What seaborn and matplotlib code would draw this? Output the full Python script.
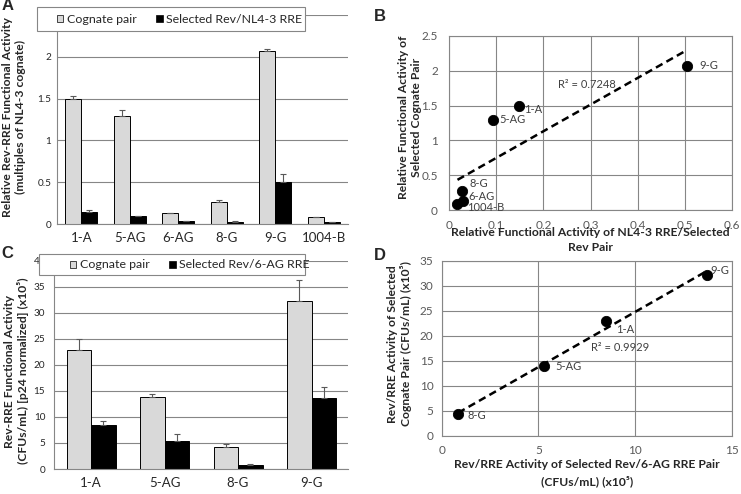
import matplotlib
matplotlib.use("Agg")

import matplotlib.pyplot as plt
import numpy as np
import pandas as pd
import seaborn as sns
from matplotlib.patches import Patch, Rectangle

# ---------------------------------------------------------------------------
# Data
# ---------------------------------------------------------------------------
A_PAIRS = ["1-A", "5-AG", "6-AG", "8-G", "9-G", "1004-B"]
A_SERIES = ["Cognate pair", "Selected Rev/NL4-3 RRE"]
A_COGNATE = [1.49, 1.295, 0.13, 0.267, 2.075, 0.08]
A_COGNATE_ERR = [0.04, 0.07, 0.005, 0.025, 0.02, 0.005]
A_SELECTED = [0.148, 0.093, 0.03, 0.028, 0.505, 0.018]
A_SELECTED_ERR = [0.015, 0.005, 0.008, 0.004, 0.09, 0.003]

C_PAIRS = ["1-A", "5-AG", "8-G", "9-G"]
C_SERIES = ["Cognate pair", "Selected Rev/6-AG RRE"]
C_COGNATE = [22.9, 13.9, 4.3, 32.2]
C_COGNATE_ERR = [2.0, 0.4, 0.5, 4.1]
C_SELECTED = [8.5, 5.3, 0.85, 13.7]
C_SELECTED_ERR = [0.8, 1.5, 0.1, 2.1]

B_R2_TEXT = "R² = 0.7248"
D_R2_TEXT = "R² = 0.9929"

# label offsets (points) for the scatter annotations
B_LABEL_OFFSETS = {"1-A": (4, -2), "5-AG": (5, 0), "6-AG": (4, 3),
                   "8-G": (5, 6), "9-G": (9, 0), "1004-B": (7, -2)}
D_LABEL_OFFSETS = {"1-A": (7, -6), "5-AG": (8, 0), "8-G": (7, -1), "9-G": (3, 3)}

GRAY_BAR = "#D9D9D9"
GRID_COLOR = "#868686"
TICK_GRAY = "#595959"
LABEL_SIZE = 8.7
W, H = 741, 494


def px(x, y):
    """Pixel position in the reference -> figure fraction."""
    return x / W, 1 - y / H


def axes_rect(left, top, right, bottom):
    return [left / W, 1 - bottom / H, (right - left) / W, (bottom - top) / H]


def draw_bars(ax, pairs, series, cognate, cognate_err, selected, selected_err):
    df = pd.DataFrame({
        "pair": pairs * 2,
        "series": [series[0]] * len(pairs) + [series[1]] * len(pairs),
        "value": cognate + selected,
    })
    sns.barplot(data=df, x="pair", y="value", hue="series", order=pairs,
                hue_order=series, palette=[GRAY_BAR, "black"], saturation=1,
                edgecolor="black", linewidth=0.7, width=2 / 3, gap=0,
                errorbar=None, legend=False, ax=ax, zorder=2)
    bar_containers = list(ax.containers)
    for cont, err in zip(bar_containers, [cognate_err, selected_err]):
        xs = [p.get_x() + p.get_width() / 2 for p in cont]
        hs = [p.get_height() for p in cont]
        ax.errorbar(xs, hs, yerr=[np.zeros(len(err)), err], fmt="none",
                    ecolor="#595959", elinewidth=0.8, capsize=2, capthick=0.8,
                    zorder=3)

    n = len(pairs)
    ax.set_xlim(-0.5, n - 0.5)
    ax.set_xlabel("")
    ax.grid(axis="y", color=GRID_COLOR, lw=0.8, zorder=0)
    ax.grid(axis="x", visible=False)
    for side in ["top", "right"]:
        ax.spines[side].set_visible(False)
    ax.spines["left"].set_color(GRID_COLOR)
    ax.spines["bottom"].set_color(GRID_COLOR)
    ax.spines["left"].set_linewidth(0.8)
    ax.spines["bottom"].set_linewidth(0.8)
    ax.set_xticks(np.arange(n + 1) - 0.5, minor=True)
    ax.tick_params(axis="x", which="minor", length=4, width=0.8,
                   color=GRID_COLOR, direction="out")
    ax.tick_params(axis="x", which="major", length=0, labelsize=9.5, pad=6)
    ax.tick_params(axis="y", length=0, labelsize=7.2, labelcolor="#262626")


def draw_legend(fig, series, box, left_x, cy):
    x0, y0 = px(box[0], box[3])
    x1, y1 = px(box[2], box[1])
    fig.patches.append(Rectangle((x0, y0), x1 - x0, y1 - y0,
                                 transform=fig.transFigure, facecolor="white",
                                 edgecolor=GRID_COLOR, lw=0.8, zorder=2))
    handles = [Patch(facecolor=GRAY_BAR, edgecolor="black", lw=0.5),
               Patch(facecolor="black", edgecolor="black", lw=0.5)]
    leg = fig.legend(handles, series, loc="center left",
                     bbox_to_anchor=px(left_x, cy), ncol=2, frameon=False,
                     fontsize=8.9, handlelength=0.5, handleheight=0.5,
                     handletextpad=0.3, columnspacing=1.6, borderpad=0,
                     borderaxespad=0)
    leg.set_zorder(5)


def draw_scatter(ax, xs, ys, names, offsets, r2_text, r2_pos):
    sns.regplot(x=xs, y=ys, scatter=False, ci=None, ax=ax, truncate=True,
                line_kws=dict(color="black", ls=(0, (3, 1.8)), lw=1.8, zorder=2))
    sns.scatterplot(x=xs, y=ys, color="black", s=55, edgecolor="black",
                    ax=ax, zorder=3, legend=False)
    for x, y, name in zip(xs, ys, names):
        ax.annotate(name, (x, y), xytext=offsets[name], textcoords="offset points",
                    ha="left", va="center", fontsize=8, color="#404040")
    ax.text(r2_pos[0], r2_pos[1], r2_text, ha="center", va="center",
            fontsize=8, color="#404040")
    ax.grid(True, color=GRID_COLOR, lw=0.8, zorder=0)
    ax.set_axisbelow(True)
    for side in ax.spines:
        ax.spines[side].set_color(GRID_COLOR)
        ax.spines[side].set_linewidth(0.8)
    ax.tick_params(length=0, labelsize=8.5, labelcolor=TICK_GRAY)


sns.set_theme(style="white")
plt.rcParams["font.family"] = ["Lato", "DejaVu Sans"]

fig = plt.figure(figsize=(W / 100, H / 100), dpi=100)

# ---------------------------------------------------------------------------
# A: bar chart, NL4-3 RRE
# ---------------------------------------------------------------------------
ax_a = fig.add_axes(axes_rect(57, 15, 348, 224))
draw_bars(ax_a, A_PAIRS, A_SERIES, A_COGNATE, A_COGNATE_ERR,
          A_SELECTED, A_SELECTED_ERR)
ax_a.set_ylim(0, 2.5)
ax_a.set_yticks([0, 0.5, 1, 1.5, 2, 2.5])
ax_a.set_yticklabels(["0", "0.5", "1", "1.5", "2", "2.5"])
ax_a.tick_params(axis="y", pad=4)
ax_a.set_ylabel("Relative Rev-RRE Functional Activity\n(multiples of NL4-3 cognate)",
                fontsize=LABEL_SIZE, fontweight="bold")
ax_a.yaxis.set_label_coords(-0.106, 0.513)
draw_legend(fig, A_SERIES, (37, 7, 305, 31), 57, 19.5)

# ---------------------------------------------------------------------------
# B: scatter of A values
# ---------------------------------------------------------------------------
ax_b = fig.add_axes(axes_rect(449, 36, 732, 210))
draw_scatter(ax_b, A_SELECTED, A_COGNATE, A_PAIRS, B_LABEL_OFFSETS,
             B_R2_TEXT, (0.292, 1.81))
ax_b.set_xlim(0, 0.6)
ax_b.set_ylim(0, 2.5)
ax_b.set_xticks([0, 0.1, 0.2, 0.3, 0.4, 0.5, 0.6])
ax_b.set_xticklabels(["0", "0.1", "0.2", "0.3", "0.4", "0.5", "0.6"])
ax_b.set_yticks([0, 0.5, 1, 1.5, 2, 2.5])
ax_b.set_yticklabels(["0", "0.5", "1", "1.5", "2", "2.5"])
ax_b.tick_params(axis="y", pad=8)
ax_b.tick_params(axis="x", pad=7)
ax_b.set_xlabel("Relative Functional Activity of NL4-3 RRE/Selected\nRev Pair",
                fontsize=LABEL_SIZE, fontweight="bold", linespacing=1.45)
ax_b.xaxis.set_label_coords(0.5, -0.1)
ax_b.set_ylabel("Relative Functional Activity of\nSelected Cognate Pair",
                fontsize=LABEL_SIZE, fontweight="bold")
ax_b.yaxis.set_label_coords(-0.0965, 0.53)

# ---------------------------------------------------------------------------
# C: bar chart, 6-AG RRE
# ---------------------------------------------------------------------------
ax_c = fig.add_axes(axes_rect(54.3, 260.6, 348.3, 469))
draw_bars(ax_c, C_PAIRS, C_SERIES, C_COGNATE, C_COGNATE_ERR,
          C_SELECTED, C_SELECTED_ERR)
ax_c.set_ylim(0, 40)
ax_c.set_yticks(np.arange(0, 41, 5))
ax_c.tick_params(axis="y", pad=6.5)
ax_c.set_ylabel("Rev-RRE Functional Activity\n(CFUs/mL) [p24 normalized] (x10⁵)",
                fontsize=LABEL_SIZE, fontweight="bold")
ax_c.yaxis.set_label_coords(-0.086, 0.47)
draw_legend(fig, C_SERIES, (39, 254, 305, 275), 70, 265)

# ---------------------------------------------------------------------------
# D: scatter of C values
# ---------------------------------------------------------------------------
ax_d = fig.add_axes(axes_rect(441.7, 260.7, 731.7, 435.7))
draw_scatter(ax_d, C_SELECTED, C_COGNATE, C_PAIRS, D_LABEL_OFFSETS,
             D_R2_TEXT, (9.22, 17.6))
ax_d.set_xlim(0, 15)
ax_d.set_ylim(0, 35)
ax_d.set_xticks([0, 5, 10, 15])
ax_d.set_yticks(np.arange(0, 36, 5))
ax_d.tick_params(axis="y", pad=6)
ax_d.tick_params(axis="x", pad=6.5)
ax_d.set_xlabel("Rev/RRE Activity of Selected Rev/6-AG RRE Pair\n(CFUs/mL) (x10⁵)",
                fontsize=LABEL_SIZE, fontweight="bold", linespacing=1.5)
ax_d.xaxis.set_label_coords(0.5, -0.135)
ax_d.set_ylabel("Rev/RRE Activity of Selected\nCognate Pair (CFUs/mL) (x10⁵)",
                fontsize=LABEL_SIZE, fontweight="bold")
ax_d.yaxis.set_label_coords(-0.103, 0.524)

# panel letters
for letter, (x, y) in zip("ABCD", [(7.5, 6), (380, 16.5), (7.5, 253.5), (380, 256)]):
    fig.text(*px(x, y), letter, fontsize=12, fontweight="bold",
             family="Liberation Sans", ha="center", va="center")

fig.savefig("out.png", dpi=100)
plt.close(fig)
